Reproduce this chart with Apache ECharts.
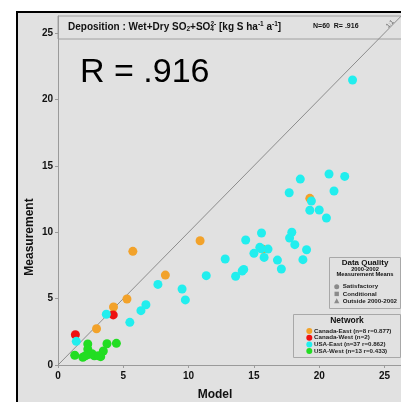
<!DOCTYPE html>
<html>
<head>
<meta charset="utf-8">
<script src="https://cdn.jsdelivr.net/npm/echarts@6/dist/echarts.min.js"></script>
<style>
html,body{margin:0;padding:0;background:#fff;}
#c{width:401px;height:402px;}
</style>
</head>
<body>
<div id="c"></div>
<script>
// ---- data ----
const networkNames = ['Canada-East (n=8 r=0.877)', 'Canada-West (n=2)', 'USA-East (n=37 r=0.862)', 'USA-West (n=13 r=0.433)'];
const canadaEast = [[2.95,2.73],[4.25,4.37],[5.28,4.97],[5.73,8.56],[8.22,6.77],[10.88,9.36],[15.7,8.71],[19.28,12.55]];
const canadaWest = [[1.33,2.28],[4.23,3.77]];
const usaEast = [[1.4,1.78],[3.7,3.82],[5.5,3.21],[6.35,4.09],[6.73,4.54],[7.65,6.07],[9.5,5.72],[9.75,4.9],
  [11.35,6.73],[12.8,7.98],[13.6,6.68],[14.1,7.08],[14.22,7.2],[14.37,9.41],[15.0,8.41],[15.58,9.94],
  [15.45,8.86],[16.08,8.73],[15.78,8.1],[16.8,7.9],[17.1,7.23],[17.7,12.97],[18.55,14.0],[19.4,12.35],
  [19.28,11.65],[20.0,11.67],[20.55,11.07],[20.75,14.38],[21.95,14.2],[21.13,13.1],[17.9,10.0],[17.73,9.56],
  [18.13,9.06],[19.03,8.68],[18.75,7.93],[22.55,21.46],[15.55,8.75]];
const usaWest = [[1.28,0.73],[1.9,0.58],[2.28,1.58],[2.28,1.2],[2.35,0.8],[2.78,0.7],[3.27,0.63],[3.47,1.05],
  [3.75,1.6],[4.47,1.63],[2.6,0.85],[3.1,0.7],[2.1,0.7]];
const oneToOne = [[0,0],[30,30]];
const tickValues = [0,5,10,15,20,25];
const qualityLabels = ['Satisfactory','Conditional','Outside 2000-2002'];
const qualitySymbols = ['circle','rect','triangle'];
const statsText = 'N=60  R= .916';
const bigText = 'R = .916';

// ---- styles ----
const colors = ['#f2a22a','#ee1111','#22eeee','#22dd22'];
const FONT = '"Liberation Sans", Arial, sans-serif';
const seriesData = [canadaEast, canadaWest, usaEast, usaWest];

const chart = echarts.init(document.getElementById('c'), null, {renderer:'canvas'});

const graphics = [];
// outer frame
graphics.push({type:'rect', z:-100, shape:{x:17,y:12,width:420,height:420}, style:{fill:'#e1e1e1', stroke:'#000', lineWidth:2}});
// title box
graphics.push({type:'rect', z:-50, shape:{x:58,y:16,width:380,height:23}, style:{fill:'none', stroke:'#a0a0a0', lineWidth:1}});
graphics.push({type:'text', x:68, y:27, style:{
  text:'{b|Deposition : Wet+Dry SO}{sub|2}{b|+SO}{sub4|4}{sup|2-}{b| [kg S ha}{sup|-1}{b| a}{sup|-1}{b|]}',
  textVerticalAlign:'middle', verticalAlign:'middle',
  rich:{
    b:{font:'bold 10px '+FONT, fill:'#111'},
    sub:{font:'bold 6.5px '+FONT, fill:'#111', padding:[5,0,0,0]},
    sub4:{font:'bold 6.5px '+FONT, fill:'#111', padding:[5,0,0,0], width:0.1},
    sup:{font:'bold 6.5px '+FONT, fill:'#111', padding:[0,0,5,0]}
  }}});
graphics.push({type:'text', x:313, y:26, style:{text:statsText, font:'bold 7px '+FONT, fill:'#111', textVerticalAlign:'middle', verticalAlign:'middle'}});
graphics.push({type:'text', x:390, y:24, rotation:Math.PI/4, style:{text:'1:1', font:'6px '+FONT, fill:'#555', textAlign:'center', align:'center', textVerticalAlign:'middle', verticalAlign:'middle'}});
// big R
graphics.push({type:'text', x:80, y:73, style:{text:bigText, font:'34px '+FONT, fill:'#000', textVerticalAlign:'middle', verticalAlign:'middle'}});
// axis titles
graphics.push({type:'text', x:215, y:395, style:{text:'Model', font:'bold 12px '+FONT, fill:'#111', textAlign:'center', align:'center', textVerticalAlign:'middle', verticalAlign:'middle'}});
graphics.push({type:'text', x:30, y:237, rotation:Math.PI/2, style:{text:'Measurement', font:'bold 12px '+FONT, fill:'#111', textAlign:'center', align:'center', textVerticalAlign:'middle', verticalAlign:'middle'}});
// Data quality box
graphics.push({type:'rect', z:5, shape:{x:329.5,y:257.5,width:71,height:51}, style:{fill:'#e1e1e1', stroke:'#a8a8a8', lineWidth:1}});
graphics.push({type:'text', z:6, x:365, y:263, style:{text:'Data Quality', font:'bold 8px '+FONT, fill:'#111', textAlign:'center', align:'center', textVerticalAlign:'middle', verticalAlign:'middle'}});
graphics.push({type:'text', z:6, x:365, y:269, style:{text:'2000-2002', font:'bold 5.8px '+FONT, fill:'#111', textAlign:'center', align:'center', textVerticalAlign:'middle', verticalAlign:'middle'}});
graphics.push({type:'text', z:6, x:365, y:274.5, style:{text:'Measurement Means', font:'bold 5.8px '+FONT, fill:'#111', textAlign:'center', align:'center', textVerticalAlign:'middle', verticalAlign:'middle'}});
qualityLabels.forEach((lab, i) => {
  const cy = 286.7 + i*7.2;
  if (qualitySymbols[i] === 'circle') graphics.push({type:'circle', z:6, shape:{cx:336.7, cy:cy, r:2.5}, style:{fill:'#8a8a8a'}});
  else if (qualitySymbols[i] === 'rect') graphics.push({type:'rect', z:6, shape:{x:334.5, y:cy-2.2, width:4.4, height:4.4}, style:{fill:'#8a8a8a'}});
  else graphics.push({type:'polygon', z:6, shape:{points:[[336.7,cy-2.8],[339.3,cy+2.2],[334.1,cy+2.2]]}, style:{fill:'#8a8a8a'}});
  graphics.push({type:'text', z:6, x:342.7, y:cy, style:{text:lab, font:'bold 6.2px '+FONT, fill:'#222', textVerticalAlign:'middle', verticalAlign:'middle'}});
});
// Network box
graphics.push({type:'rect', z:5, shape:{x:293.5,y:314.5,width:107,height:43}, style:{fill:'#e1e1e1', stroke:'#a8a8a8', lineWidth:1}});
graphics.push({type:'text', z:6, x:347, y:320.7, style:{text:'Network', font:'bold 8.5px '+FONT, fill:'#111', textAlign:'center', align:'center', textVerticalAlign:'middle', verticalAlign:'middle'}});
networkNames.forEach((nm, i) => {
  const cy = 331 + i*6.7;
  graphics.push({type:'circle', z:6, shape:{cx:309.3, cy:cy, r:3}, style:{fill:colors[i]}});
  graphics.push({type:'text', z:6, x:314, y:cy, style:{text:nm, font:'bold 6.2px '+FONT, fill:'#222', textVerticalAlign:'middle', verticalAlign:'middle'}});
});

const axisCommon = {
  type:'value', min:0, interval:5,
  axisLine:{show:true, onZero:false, lineStyle:{color:'#9a9a9a', width:1}},
  axisTick:{show:true, inside:false, length:3, customValues:tickValues, lineStyle:{color:'#9a9a9a'}},
  axisLabel:{customValues:tickValues, fontFamily:FONT, fontWeight:'bold', fontSize:10, color:'#111'},
  splitLine:{show:false}
};

const series = seriesData.map((d, i) => ({
  type:'scatter', name:networkNames[i], data:d, symbol:'circle', symbolSize:9,
  itemStyle:{color:colors[i], opacity:1}, z:3, silent:true
}));
series.unshift({type:'line', data:oneToOne, symbol:'none', clip:true, silent:true,
  lineStyle:{color:'#8c8c8c', width:1}, z:2});

chart.setOption({
  animation:false,
  backgroundColor:'#ffffff',
  grid:{left:58, top:16, width:350, height:349, containLabel:false},
  xAxis:Object.assign({}, axisCommon, {max:26.26, axisLabel:Object.assign({}, axisCommon.axisLabel, {margin:6})}),
  yAxis:Object.assign({}, axisCommon, {max:26.28, axisLabel:Object.assign({}, axisCommon.axisLabel, {margin:5})}),
  graphic:{elements:graphics},
  series:series
});
</script>
</body>
</html>
